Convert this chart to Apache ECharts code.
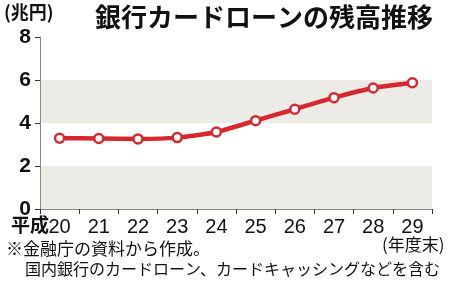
<!DOCTYPE html>
<html><head><meta charset="utf-8">
<script src="https://cdn.jsdelivr.net/npm/echarts@6/dist/echarts.min.js"></script>
<style>html,body{margin:0;padding:0;background:#fff}#c{width:450px;height:286px}</style>
</head><body><div id="c"></div>
<script>
const categories = ['20','21','22','23','24','25','26','27','28','29'];
const balance = [3.29, 3.28, 3.26, 3.32, 3.58, 4.11, 4.64, 5.18, 5.63, 5.87];
const yTicks = [0, 2, 4, 6, 8];

const chart = echarts.init(document.getElementById('c'), null, {renderer: 'canvas'});
const JP = '"Noto Sans CJK JP", sans-serif';
const NUM = '"Liberation Sans", Arial, sans-serif';
chart.setOption({
  animation: false,
  grid: {left: 40, right: 18, top: 37, bottom: 77},
  xAxis: {
    type: 'category', data: categories, boundaryGap: true,
    axisLine: {lineStyle: {color: '#888', width: 1}},
    axisTick: {show: true, length: 5, lineStyle: {color: '#333'}},
    axisLabel: {color: '#111', fontSize: 20, fontFamily: NUM, margin: 8}
  },
  yAxis: {
    type: 'value', min: yTicks[0], max: yTicks[yTicks.length-1], interval: 2,
    axisLine: {show: true, lineStyle: {color: '#888', width: 1}},
    axisTick: {show: true, length: 5, lineStyle: {color: '#333'}},
    axisLabel: {color: '#111', fontSize: 21, fontWeight: 'bold', fontFamily: NUM, margin: 9},
    splitLine: {show: false},
    splitArea: {show: true, areaStyle: {color: ['#ecebe6', '#ffffff']}}
  },
  series: [{
    type: 'line', data: balance, smooth: 0.2,
    lineStyle: {color: '#d7282f', width: 4.5},
    itemStyle: {color: '#ffffff', borderColor: '#d7282f', borderWidth: 2.5},
    symbol: 'circle', symbolSize: 9
  }],
  graphic: [
    {type: 'text', left: 95, top: 4, style: {text: '銀行カードローンの残高推移', fontSize: 26, fontWeight: 'bold', fontFamily: JP, fill: '#111'}},
    {type: 'text', left: 4, top: 3, style: {text: '(兆円)', fontSize: 18, fontWeight: 'bold', fontFamily: JP, fill: '#111'}},
    {type: 'text', left: 11, top: 215, style: {text: '平成', fontSize: 19, fontWeight: 'bold', fontFamily: JP, fill: '#111'}},
    {type: 'text', left: 382, top: 236, style: {text: '(年度末)', fontSize: 17, fontFamily: JP, fill: '#111'}},
    {type: 'text', left: 6, top: 240, style: {text: '※金融庁の資料から作成。', fontSize: 17, fontFamily: JP, fill: '#111'}},
    {type: 'text', left: 25, top: 261, style: {text: '国内銀行のカードローン、カードキャッシングなどを含む', fontSize: 16, fontFamily: JP, fill: '#111'}}
  ]
});
</script></body></html>
